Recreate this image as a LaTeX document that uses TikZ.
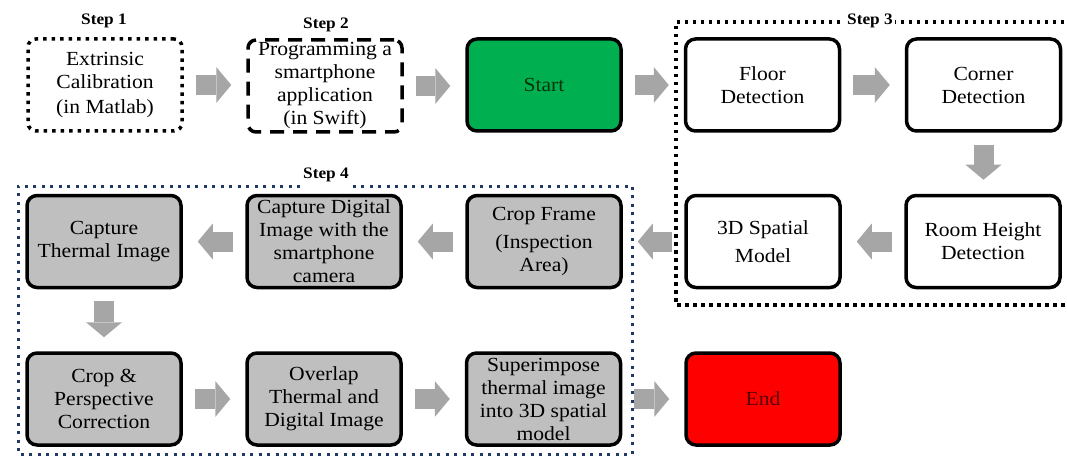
\documentclass[tikz,border=0pt]{standalone}
\usepackage{fontspec}
\setmainfont[FakeStretch=1.08]{Liberation Serif}
\usetikzlibrary{arrows.meta,calc}
\definecolor{boxgray}{HTML}{BFBFBF}
\definecolor{arrgray}{HTML}{A6A6A6}
\definecolor{startgreen}{HTML}{00B050}
\definecolor{endred}{HTML}{FF0000}
\definecolor{navyline}{HTML}{1F3864}
\definecolor{starttext}{HTML}{0A320A}
\definecolor{endtext}{HTML}{5A0000}
\begin{document}
\begin{tikzpicture}[x=1pt,y=-1pt,
  box/.style={draw=black, line width=3.5pt, rounded corners=10pt,
    minimum width=154pt, minimum height=92pt, align=center, inner sep=2pt,
    font=\fontsize{20}{23}\selectfont},
  whitebox/.style={box, fill=white},
  graybox/.style={box, fill=boxgray},
  stepone/.style={box, line width=3.5pt, dash pattern=on 3.5pt off 5pt, rounded corners=8pt},
  steptwo/.style={box, line width=3.5pt, dash pattern=on 14pt off 9pt, rounded corners=8pt},
  steplabel/.style={font=\bfseries\fontsize{16}{18}\selectfont, inner sep=3pt},
  groupthree/.style={draw=black, line width=3.5pt, dash pattern=on 3.5pt off 4.5pt},
  groupfour/.style={draw=navyline, line width=3pt, dash pattern=on 3pt off 5.5pt},
  flow/.style={draw=arrgray, line width=20pt,
    -{Triangle[length=15pt 0 0, width=36pt 0 0, line width=0pt 0 0, fill=arrgray]}},
]
\useasboundingbox (0,0) rectangle (1067,457);

% group frames
\coordinate (g3nw) at (676,22);
\coordinate (g3se) at (1080,305);
\draw[groupthree] (1080,22) -- (g3nw) -- (g3nw |- g3se) -- (g3se);
\node[steplabel, fill=white, inner sep=2pt] (lab3) at (870,21) {Step 3};

\node[steplabel] (lab4) at (326,175) {Step 4};
\coordinate (g4nw) at (18,186);
\coordinate (g4se) at (632,454);
\draw[groupfour] (lab4.west |- g4nw) -- (g4nw) -- (g4nw |- g4se) -- (g4se)
  -- (g4se |- g4nw) -- (lab4.east |- g4nw);

% row 1
\node[stepone] (s1) at (105,85) {Extrinsic\\Calibration\\[2pt](in Matlab)};
\node[steplabel] (lab1) at (104,21) {Step 1};
\node[steptwo] (s2) at (325,86) {Programming a\\smartphone\\application\\(in Swift)};
\node[steplabel] (lab2) at (326,25) {Step 2};
\node[box, fill=startgreen, text=starttext] (start) at (544,85) {Start};
\node[whitebox] (floor) at (762.5,85) {Floor\\Detection};
\node[whitebox] (corner) at (983.5,85) {Corner\\Detection};

% row 2
\node[graybox] (capth) at (104,241.5) {Capture\\Thermal Image};
\node[graybox] (capdig) at (324,241.5) {Capture Digital\\Image with the\\smartphone\\camera};
\node[graybox] (cropf) at (544,241.5) {Crop Frame\\[5pt](Inspection\\Area)};
\node[whitebox] (spatial) at (763,241.5) {3D Spatial\\[5pt]Model};
\node[whitebox] (room) at (983,241.5) {Room Height\\Detection};

% row 3
\node[graybox] (cropp) at (104,399) {Crop \&\\Perspective\\Correction};
\node[graybox] (overlap) at (324,399) {Overlap\\Thermal and\\Digital Image};
\node[graybox] (superimp) at (543.5,399) {Superimpose\\thermal image\\into 3D spatial\\model};
\node[box, fill=endred, text=endtext] (endn) at (763,399) {End};

% connectors
\foreach \a/\b in {s1/s2, s2/start, start/floor, floor/corner, cropp/overlap,
                   overlap/superimp, superimp/endn}
  \draw[flow, shorten <=12pt, shorten >=15pt] (\a.east) -- (\a.east -| \b.west);
\foreach \a/\b in {room/spatial, spatial/cropf, cropf/capdig, capdig/capth}
  \draw[flow, shorten <=12pt, shorten >=15pt] (\a.west) -- (\a.west -| \b.east);
\foreach \a/\b in {corner/room, capth/cropp}
  \draw[flow, shorten <=12pt, shorten >=14pt] (\a.south) -- (\a.south |- \b.north);
\end{tikzpicture}
\end{document}
